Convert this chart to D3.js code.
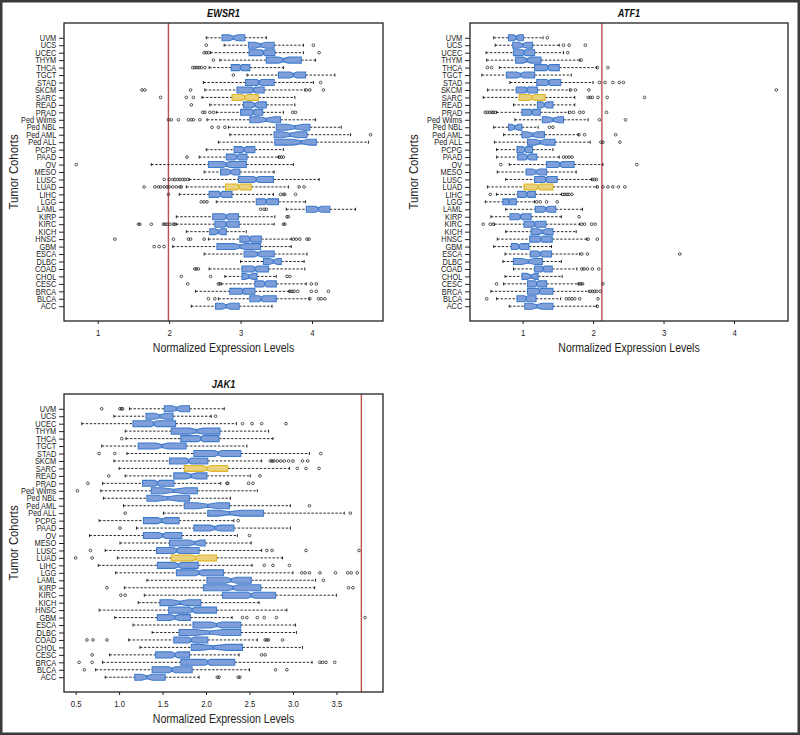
<!DOCTYPE html>
<html><head><meta charset="utf-8">
<script src="https://cdn.jsdelivr.net/npm/d3@7"></script>
<style>body{margin:0;background:#fff}svg{display:block}</style>
</head><body><svg id="c" width="800" height="735"></svg>
<script>
// ---------------- DATA ----------------
const cohorts = ["ACC","BLCA","BRCA","CESC","CHOL","COAD","DLBC","ESCA","GBM","HNSC","KICH","KIRC","KIRP","LAML","LGG","LIHC","LUAD","LUSC","MESO","OV","PAAD","PCPG","Ped ALL","Ped AML","Ped NBL","Ped Wilms","PRAD","READ","SARC","SKCM","STAD","TGCT","THCA","THYM","UCEC","UCS","UVM"];
const highlighted = ["SARC","LUAD"];
// approximate cohort sizes (used for notch width as in R boxplot)
const cohortSize = [79,408,1100,306,36,290,48,185,166,520,66,533,290,173,530,371,515,501,87,307,179,184,60,45,40,40,498,95,263,469,415,156,509,120,546,57,80];

const ewsr1Low    = [2.31,2.69,2.37,2.73,2.78,2.56,3.00,2.49,2.05,2.55,2.24,2.10,2.10,3.64,2.66,2.14,2.24,2.28,2.49,1.75,2.42,2.52,2.69,2.85,2.83,2.53,2.66,2.57,2.46,2.50,2.48,3.09,2.56,2.71,2.58,2.77,2.52];
const ewsr1Q1     = [2.65,3.13,2.85,3.20,3.02,3.02,3.32,3.05,2.67,2.99,2.57,2.64,2.61,3.92,3.22,2.56,2.79,2.97,2.72,2.55,2.80,2.91,3.48,3.47,3.50,3.13,3.00,3.04,2.88,2.95,3.07,3.53,2.87,3.36,3.12,3.11,2.74];
const ewsr1Median = [2.80,3.29,3.03,3.34,3.12,3.20,3.46,3.24,2.99,3.13,2.69,2.80,2.80,4.09,3.36,2.72,2.98,3.22,2.86,2.80,2.95,3.05,3.85,3.69,3.76,3.36,3.18,3.20,3.06,3.18,3.26,3.74,3.00,3.60,3.32,3.28,2.90];
const ewsr1Q3     = [2.98,3.50,3.20,3.50,3.23,3.39,3.57,3.47,3.28,3.29,2.80,2.98,2.97,4.25,3.53,2.88,3.15,3.46,2.99,3.08,3.09,3.20,4.06,3.93,3.97,3.56,3.31,3.36,3.25,3.33,3.47,3.91,3.13,3.85,3.48,3.47,3.06];
const ewsr1High   = [3.44,3.96,3.68,3.92,3.50,3.90,3.89,3.93,3.71,3.71,3.08,3.47,3.48,4.61,3.91,3.46,3.67,4.10,3.47,3.74,3.53,3.60,4.79,4.54,4.41,4.05,3.60,3.76,3.76,3.90,4.02,4.32,3.60,4.05,3.88,3.88,3.36];
const ewsr1Outliers = [
  [],[2.55,2.64,3.97,4.09,4.13,4.18],[3.69,3.72,3.75,3.80,3.99,4.06,4.23],[2.26,2.69,2.71,3.99,4.06],[2.17,2.58,3.65,3.69],
  [2.36,2.38,2.41],[],[],[1.79,1.86,1.93],[1.24,2.06,2.27,2.30,2.49,3.74,3.78,3.83,3.93,3.96],
  [],[1.57,1.59,1.75,1.92,1.94,1.97,2.01,2.06,2.08,3.60,3.62],[3.65,3.67],[3.28,3.33,3.36],[2.45,2.49,2.53],
  [1.99,3.56,3.60,3.62,3.77],[1.65,1.80,1.85,1.88,1.93,1.97,2.00,2.05,2.10,2.15,2.17,3.82,3.89],[1.93,2.00,2.05,2.08,2.12,2.15,2.19,2.22,2.26],[],[0.70],
  [2.25,3.54,3.57,3.60],[],[],[4.82],[2.60,2.69,2.78],
  [1.99,2.03,2.13,2.27,2.31,2.34,2.43],[2.47,2.50,2.57,2.62,3.73,3.77],[2.31],[1.88,2.24,2.34],[1.62,1.66,2.30,3.92,3.97,4.16],
  [4.12],[2.90],[2.33,2.36,2.39,2.42,2.45,2.50],[2.62],[2.49,2.52,2.55,4.10],[2.52,4.02],[]
];
const ewsr1Ref = 1.99;
const ewsr1Ticks = [1,2,3,4];

const atf1Low    = [0.81,0.63,0.55,0.73,0.75,0.87,0.72,0.75,0.59,0.64,0.76,0.60,0.55,0.76,0.47,0.63,0.50,0.76,0.64,0.81,0.63,0.63,0.60,0.73,0.59,0.89,0.63,0.87,0.44,0.50,0.82,0.42,0.67,0.49,0.48,0.61,0.59];
const atf1Q1     = [1.03,0.92,1.07,1.07,0.99,1.17,0.87,1.11,0.84,1.10,1.12,1.02,0.82,1.18,0.72,0.93,1.02,1.17,1.05,1.34,0.93,0.92,1.07,0.99,0.80,1.28,0.99,1.21,0.95,0.91,1.20,0.77,1.17,0.90,0.87,0.86,0.80];
const atf1Median = [1.20,1.05,1.24,1.20,1.12,1.29,1.08,1.25,0.95,1.26,1.28,1.17,0.97,1.33,0.81,1.06,1.22,1.33,1.19,1.53,1.07,1.03,1.25,1.14,0.89,1.43,1.13,1.31,1.13,1.06,1.37,0.97,1.36,1.06,1.02,1.00,0.91];
const atf1Q3     = [1.43,1.19,1.43,1.34,1.22,1.42,1.28,1.41,1.09,1.42,1.43,1.33,1.12,1.47,0.91,1.18,1.43,1.49,1.34,1.73,1.20,1.14,1.46,1.31,0.99,1.58,1.25,1.43,1.32,1.21,1.54,1.17,1.52,1.26,1.17,1.14,1.01];
const atf1High   = [2.05,1.54,1.94,1.79,1.56,1.77,1.55,1.81,1.41,1.91,1.76,1.81,1.55,1.85,1.17,1.55,2.05,1.98,1.76,2.14,1.52,1.43,1.96,1.79,1.22,1.93,1.65,1.74,1.74,1.67,2.00,1.69,2.05,1.81,1.58,1.52,1.29];
const atf1Outliers = [
  [2.06],[0.49,1.62,1.66,1.70,1.74,1.81,2.07],[1.96,1.99,2.02,2.05,2.10],[0.63,1.80,1.83,1.85,2.14],[],
  [1.84,1.87,1.92,1.99,2.08],[],[1.84,1.92,3.23],[],[1.93,2.06],
  [],[0.44,0.54,0.58,1.84,1.88,1.98,2.03],[1.80],[],[1.20,1.25,1.34,1.49],
  [0.54,1.57,1.60,1.63,1.66,1.70],[2.06,2.14,2.21,2.28,2.36,2.45],[1.99,2.02,2.05],[],[0.69,2.62],
  [1.58,1.62,1.66,1.70],[],[2.11,2.14,2.38],[1.80,1.88,2.32],[1.38,1.43],
  [2.09,2.46],[0.47,0.50,0.53,0.56,0.58,0.61,1.67,1.72,1.81,1.86,2.19],[],[1.93,1.96,1.99,2.07,2.20,2.73],[1.68,1.75,1.94,4.60],
  [2.09,2.17,2.28,2.37,2.43],[],[0.50,0.56,2.06,2.21],[1.83],[1.64],[1.58,1.66,1.89],[1.35]
];
const atf1Ref = 2.125;
const atf1Ticks = [1,2,3,4];

const jak1Low    = [0.84,0.73,0.81,0.89,1.24,1.11,1.38,1.16,0.95,0.77,1.22,1.29,1.06,1.32,0.96,0.76,0.98,0.84,1.01,0.66,1.20,0.77,1.51,1.05,0.82,0.79,0.81,1.07,1.00,0.94,1.09,0.80,1.08,1.07,0.57,0.94,1.12];
const jak1Q1     = [1.18,1.38,1.71,1.42,1.83,1.63,1.69,1.85,1.44,1.57,1.47,2.19,1.97,2.01,1.66,1.44,1.60,1.43,1.58,1.28,1.86,1.28,2.02,1.75,1.32,1.37,1.27,1.63,1.75,1.58,1.86,1.22,1.71,1.60,1.16,1.31,1.52];
const jak1Median = [1.32,1.61,2.02,1.64,2.08,1.83,2.04,2.12,1.64,1.84,1.70,2.52,2.31,2.29,1.92,1.68,1.88,1.66,1.87,1.50,2.10,1.49,2.27,2.02,1.56,1.63,1.44,1.83,2.01,1.80,2.14,1.49,1.94,1.89,1.40,1.47,1.66];
const jak1Q3     = [1.53,1.84,2.33,1.81,2.42,2.02,2.40,2.40,1.82,2.12,1.94,2.80,2.63,2.52,2.20,1.91,2.12,1.92,1.99,1.72,2.32,1.69,2.66,2.27,1.81,1.90,1.63,2.01,2.25,2.02,2.40,1.77,2.15,2.16,1.65,1.62,1.81];
const jak1High   = [1.92,2.50,3.22,2.38,3.11,2.59,3.04,3.03,2.30,2.93,2.61,3.50,3.25,3.26,3.00,2.53,2.88,2.64,2.52,2.36,2.97,2.32,3.59,2.97,2.28,2.59,2.17,2.51,2.96,2.64,3.19,2.47,2.77,2.72,2.35,2.06,2.21];
const jak1Outliers = [
  [2.13,2.15,2.37,2.39],[0.60,2.80,2.93],[0.54,0.69,3.31,3.34,3.38,3.48],[0.69,2.64,2.68],[],
  [0.63,0.70,0.86,2.68,2.70,2.72,2.88],[],[],[2.42,2.47,2.59,2.67,2.81,3.83],[],
  [],[1.02,1.07],[0.86,3.64,3.69],[3.35],[3.10,3.14,3.19,3.31,3.49,3.63,3.67,3.74],
  [2.67,2.77,2.96],[0.50,0.69],[0.67,2.70,2.76,3.15,3.76],[],[2.50],
  [1.01],[2.37],[1.07,3.66],[3.19],[],
  [0.52],[0.64,2.24,2.25,2.49,2.54],[0.88,2.62],[3.05,3.15,3.30],[2.74,2.76,2.78,2.82,2.86,2.90,2.95,3.00,3.11,3.17],
  [0.77,0.95,3.32],[],[1.03],[],[2.42,2.53,2.64,2.92],[2.11],[0.80,1.01,1.03,1.04]
];
const jak1Ref = 3.787;
const jak1Ticks = [0.5,1.0,1.5,2.0,2.5,3.0,3.5];

// ---------------- DRAWING ----------------
const svg = d3.select("#c");
const FONT = "'Liberation Sans',Arial,Helvetica,sans-serif";
const BLUE_FILL = "#7f9fdb", BLUE_LINE = "#3f7bcb";
const YEL_FILL = "#ead27a", YEL_LINE = "#dfb52a";

svg.append("rect").attr("x",1.25).attr("y",1.25).attr("width",797.5).attr("height",732.5)
  .attr("fill","none").attr("stroke","#3a3a3a").attr("stroke-width",2.5);

function panel(cfg){
  const g = svg.append("g");
  const x = d3.scaleLinear().domain(cfg.xDomain).range([cfg.left, cfg.right]);
  const y = d3.scaleLinear().domain([-0.98, 38.98]).range([cfg.bottom, cfg.top]);
  const slot = Math.abs(y(1)-y(0));
  const hw = slot*0.4, sw = hw*0.5;

  // reference line
  g.append("line").attr("x1",x(cfg.ref)).attr("x2",x(cfg.ref))
    .attr("y1",cfg.top).attr("y2",cfg.bottom)
    .attr("stroke","#c0504d").attr("stroke-width",1.4);

  const rows = cohorts.map((c,i)=>({
    name:c, pos:i+1, lo:cfg.low[i], q1:cfg.q1[i], med:cfg.med[i], q3:cfg.q3[i], hi:cfg.high[i],
    out:cfg.out[i], n:cohortSize[i], hl: highlighted.includes(c)
  }));

  const rg = g.selectAll("g.row").data(rows).join("g").attr("class","row");
  rg.append("line").attr("x1",d=>x(d.lo)).attr("x2",d=>x(d.q1)).attr("y1",d=>y(d.pos)).attr("y2",d=>y(d.pos))
    .attr("stroke","#111").attr("stroke-width",0.9).attr("stroke-dasharray","2.4,1.6");
  rg.append("line").attr("x1",d=>x(d.q3)).attr("x2",d=>x(d.hi)).attr("y1",d=>y(d.pos)).attr("y2",d=>y(d.pos))
    .attr("stroke","#111").attr("stroke-width",0.9).attr("stroke-dasharray","2.4,1.6");
  rg.append("line").attr("x1",d=>x(d.lo)).attr("x2",d=>x(d.lo)).attr("y1",d=>y(d.pos)-sw).attr("y2",d=>y(d.pos)+sw)
    .attr("stroke","#111").attr("stroke-width",0.9);
  rg.append("line").attr("x1",d=>x(d.hi)).attr("x2",d=>x(d.hi)).attr("y1",d=>y(d.pos)-sw).attr("y2",d=>y(d.pos)+sw)
    .attr("stroke","#111").attr("stroke-width",0.9);
  rg.append("path").attr("d",d=>{
    const nt = 1.58*(d.q3-d.q1)/Math.sqrt(d.n);
    const yc = y(d.pos);
    const pts = [[d.q1,-1],[d.med-nt,-1],[d.med,-0.5],[d.med+nt,-1],[d.q3,-1],[d.q3,1],[d.med+nt,1],[d.med,0.5],[d.med-nt,1],[d.q1,1]]
      .map(p=>[x(p[0]), yc+p[1]*hw]);
    return d3.line()(pts)+"Z";
  }).attr("fill",d=>d.hl?YEL_FILL:BLUE_FILL).attr("stroke",d=>d.hl?YEL_LINE:BLUE_LINE).attr("stroke-width",1.1);
  rg.append("line").attr("x1",d=>x(d.med)).attr("x2",d=>x(d.med)).attr("y1",d=>y(d.pos)-hw*0.5).attr("y2",d=>y(d.pos)+hw*0.5)
    .attr("stroke",d=>d.hl?YEL_LINE:BLUE_LINE).attr("stroke-width",1.4);
  rg.selectAll("circle").data(d=>d.out.map(v=>({v,pos:d.pos}))).join("circle")
    .attr("cx",d=>x(d.v)).attr("cy",d=>y(d.pos)).attr("r",1.35)
    .attr("fill","none").attr("stroke","#222").attr("stroke-width",0.75);

  g.append("rect").attr("x",cfg.left).attr("y",cfg.top).attr("width",cfg.right-cfg.left).attr("height",cfg.bottom-cfg.top)
    .attr("fill","none").attr("stroke","#222").attr("stroke-width",1.3);

  const xa = g.append("g").attr("transform",`translate(0,${cfg.bottom})`)
    .call(d3.axisBottom(x).tickValues(cfg.ticks).tickFormat(cfg.fmt).tickSize(3).tickPadding(5.5));
  xa.select(".domain").remove();
  xa.selectAll("text").attr("font-family",FONT).attr("font-size",8.6).attr("fill","#222").attr("transform","scale(0.9,1)");
  xa.selectAll("line").attr("stroke","#222");
  const ya = g.append("g").attr("transform",`translate(${cfg.left},0)`)
    .call(d3.axisLeft(y).tickValues(d3.range(1,cohorts.length+1)).tickFormat(i=>cohorts[i-1]).tickSize(5).tickPadding(2.5));
  ya.select(".domain").remove();
  ya.selectAll("text").attr("font-family",FONT).attr("font-size",8.4).attr("fill","#222")
    .attr("x",-8.8).attr("transform","scale(0.88,1)");
  ya.selectAll("line").attr("stroke","#222");

  g.append("text").attr("transform",`translate(${(cfg.left+cfg.right)/2},${cfg.top-6}) scale(0.84,1)`).attr("text-anchor","middle")
    .attr("font-family",FONT).attr("font-size",11).attr("font-weight","bold").attr("font-style","italic").attr("fill","#111")
    .text(cfg.title);
  g.append("text").attr("transform",`translate(${(cfg.left+cfg.right)/2},${cfg.bottom+31}) scale(0.81,1)`).attr("text-anchor","middle")
    .attr("font-family",FONT).attr("font-size",13).attr("fill","#222").text("Normalized Expression Levels");
  g.append("text").attr("transform",`translate(${cfg.ytx},${(cfg.top+cfg.bottom)/2}) rotate(-90) scale(0.84,1)`)
    .attr("text-anchor","middle").attr("dy","0.35em")
    .attr("font-family",FONT).attr("font-size",13.5).attr("fill","#222").text("Tumor Cohorts");
}

panel({title:"EWSR1", left:64, right:383, top:23, bottom:321, ytx:13, xDomain:[0.528,4.994],
  low:ewsr1Low, q1:ewsr1Q1, med:ewsr1Median, q3:ewsr1Q3, high:ewsr1High, out:ewsr1Outliers,
  ref:ewsr1Ref, ticks:ewsr1Ticks, fmt:d3.format("d")});
panel({title:"ATF1", left:470, right:788, top:23, bottom:321, ytx:413, xDomain:[0.253,4.766],
  low:atf1Low, q1:atf1Q1, med:atf1Median, q3:atf1Q3, high:atf1High, out:atf1Outliers,
  ref:atf1Ref, ticks:atf1Ticks, fmt:d3.format("d")});
panel({title:"JAK1", left:64, right:383, top:394, bottom:692, ytx:13, xDomain:[0.366,4.036],
  low:jak1Low, q1:jak1Q1, med:jak1Median, q3:jak1Q3, high:jak1High, out:jak1Outliers,
  ref:jak1Ref, ticks:jak1Ticks, fmt:d3.format(".1f")});
</script></body></html>
